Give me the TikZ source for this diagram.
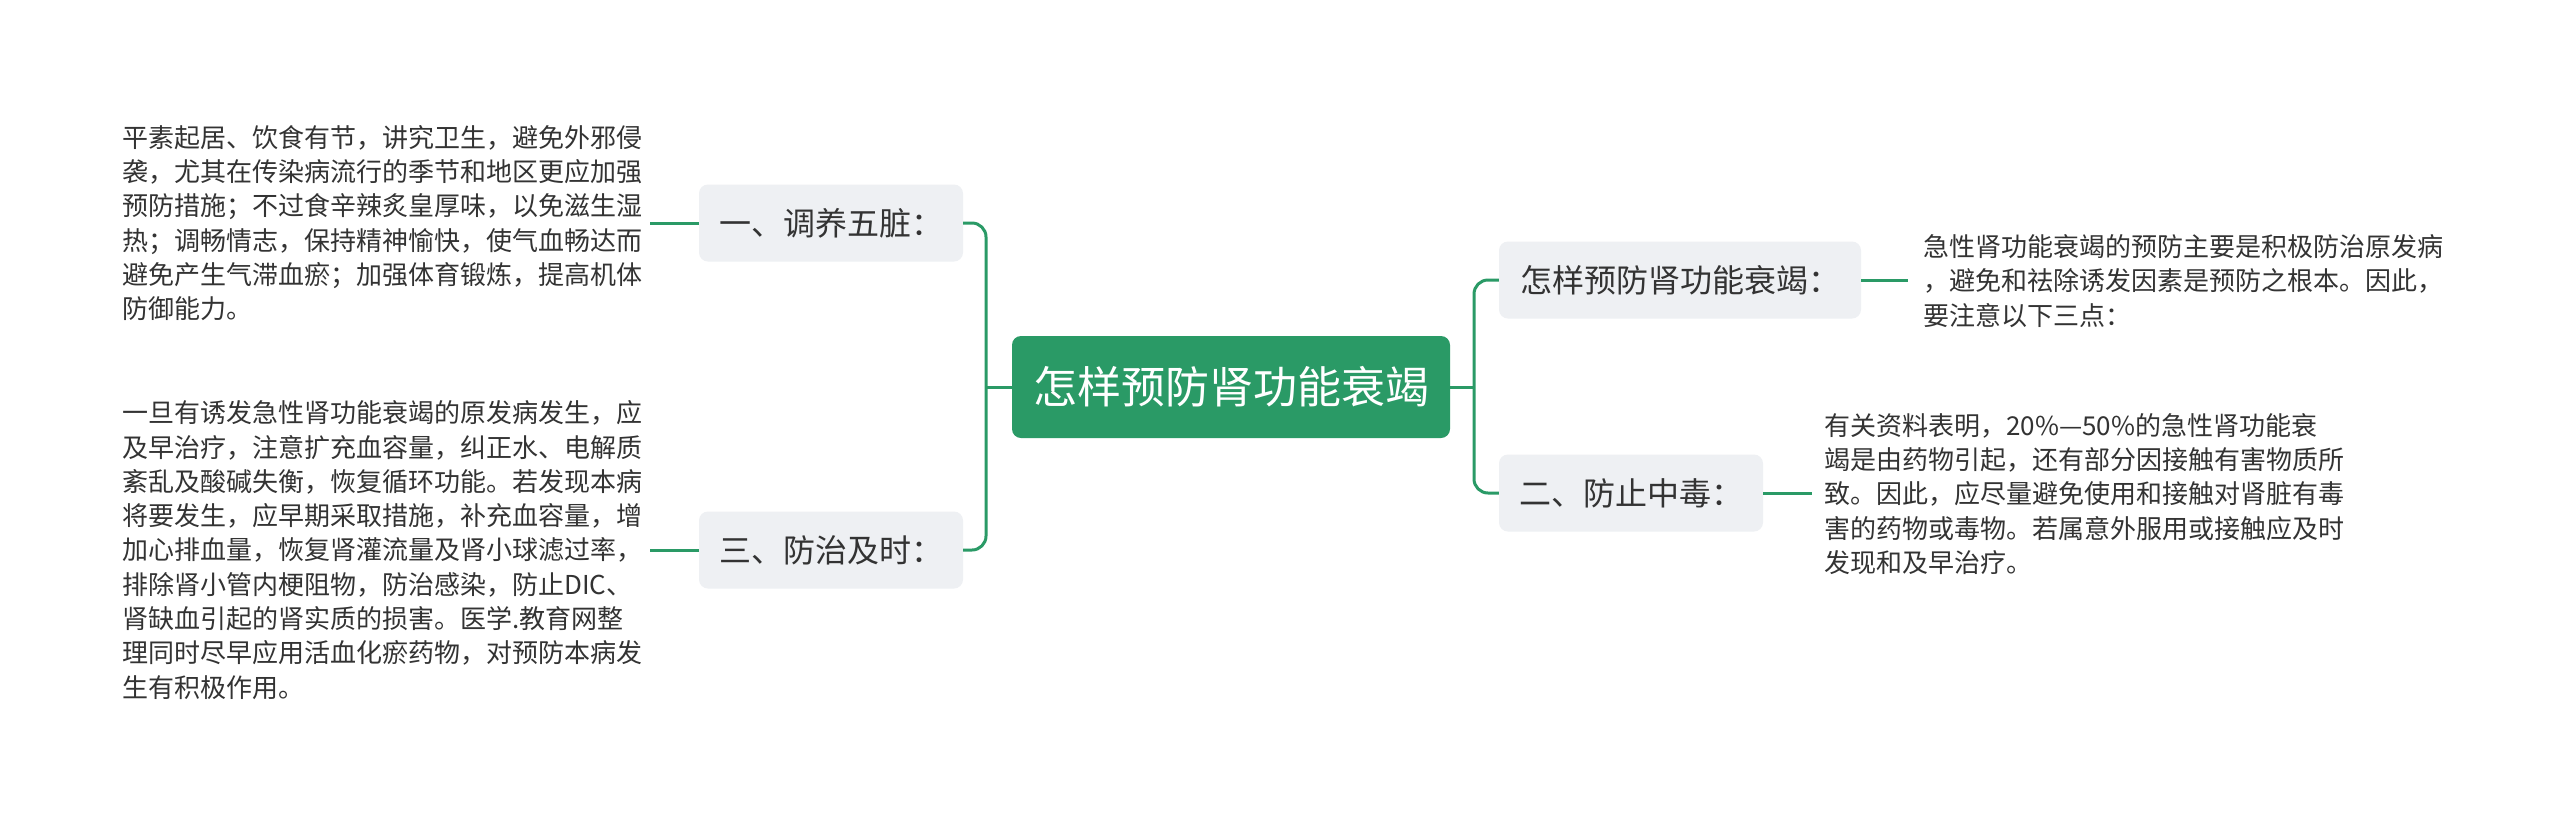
\documentclass[tikz,border=0pt]{standalone}
\usepackage{fontspec}
\setmainfont{Noto Sans CJK SC}
\definecolor{mgreen}{HTML}{2A9A66}
\definecolor{boxgray}{HTML}{EEF0F3}
\definecolor{txt}{HTML}{333333}
\begin{document}
\begin{tikzpicture}[x=1pt,y=-1pt,
  conn/.style={draw=mgreen,line width=3pt},
  rootbox/.style={fill=mgreen,rounded corners=9pt,text=white,minimum width=438pt,minimum height=102pt,inner sep=0pt,font=\fontsize{44}{50}\selectfont},
  subbox/.style={fill=boxgray,rounded corners=9pt,text=txt,minimum height=77pt,inner sep=0pt,font=\fontsize{32}{38}\selectfont},
  desc/.style={text=txt,align=left,inner sep=0pt,font=\fontsize{26}{34.3}\selectfont}]
\useasboundingbox (0,0) rectangle (2560,823);
\fill[white] (0,0) rectangle (2560,823);

\node[rootbox] (root) at (1231,387) {怎样预防肾功能衰竭};

\node[subbox,minimum width=264pt] (b1) at (831,223) {一、调养五脏：};
\node[subbox,minimum width=264pt] (b3) at (831,550) {三、防治及时：};
\node[subbox,minimum width=362pt] (r1) at (1680,280) {怎样预防肾功能衰竭：};
\node[subbox,minimum width=264pt] (r2) at (1631,493) {二、防止中毒：};

\node[desc,anchor=west] (t1) at (122,223) {平素起居、饮食有节，讲究卫生，避免外邪侵\\袭，尤其在传染病流行的季节和地区更应加强\\预防措施；不过食辛辣炙皇厚味，以免滋生湿\\热；调畅情志，保持精神愉快，使气血畅达而\\避免产生气滞血瘀；加强体育锻炼，提高机体\\防御能力。};
\node[desc,anchor=west] (t3) at (122,550) {一旦有诱发急性肾功能衰竭的原发病发生，应\\及早治疗，注意扩充血容量，纠正水、电解质\\紊乱及酸碱失衡，恢复循环功能。若发现本病\\将要发生，应早期采取措施，补充血容量，增\\加心排血量，恢复肾灌流量及肾小球滤过率，\\排除肾小管内梗阻物，防治感染，防止DIC、\\肾缺血引起的肾实质的损害。医学.教育网整\\理同时尽早应用活血化瘀药物，对预防本病发\\生有积极作用。};
\node[desc,anchor=west] (tr1) at (1923,281) {急性肾功能衰竭的预防主要是积极防治原发病\\，避免和祛除诱发因素是预防之根本。因此，\\要注意以下三点：};
\node[desc,anchor=west] (tr2) at (1824,494) {有关资料表明，20\%—50\%的急性肾功能衰\\竭是由药物引起，还有部分因接触有害物质所\\致。因此，应尽量避免使用和接触对肾脏有毒\\害的药物或毒物。若属意外服用或接触应及时\\发现和及早治疗。};

\coordinate (jl) at (986,387);
\coordinate (jr) at (1474,387);

\draw[conn] (root.west) -- (jl);
\draw[conn,rounded corners=14pt] (b1.east) -- (jl |- b1.east) -- (jl |- b3.east) -- (b3.east);
\draw[conn] (root.east) -- (jr);
\draw[conn,rounded corners=14pt] (r1.west) -- (jr |- r1.west) -- (jr |- r2.west) -- (r2.west);

\draw[conn] ([xshift=8pt]b1.west -| t1.east) -- (b1.west);
\draw[conn] ([xshift=8pt]b3.west -| t3.east) -- (b3.west);
\draw[conn] (r1.east) -- ([xshift=-15pt]r1.east -| tr1.west);
\draw[conn] (r2.east) -- ([xshift=-12pt]r2.east -| tr2.west);
\end{tikzpicture}
\end{document}
